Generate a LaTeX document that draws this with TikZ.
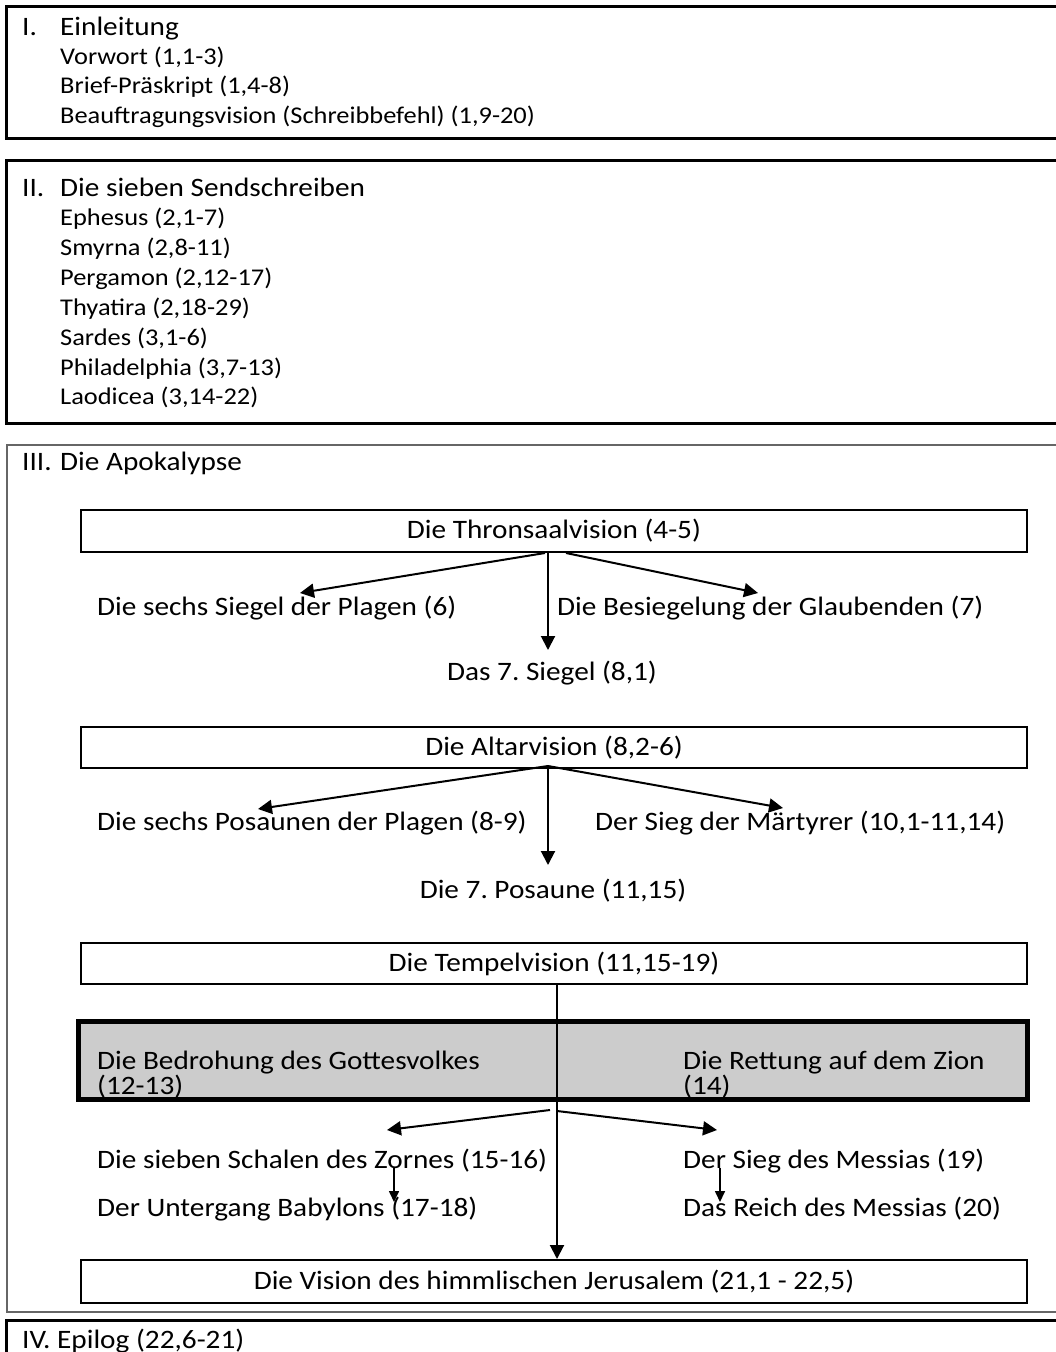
\documentclass[tikz,border=0pt]{standalone}
\usepackage{fontspec}
\setmainfont{Carlito}[FakeStretch=1.1]
\usetikzlibrary{arrows.meta}
\newcommand\dfont{\fontsize{26.6}{30}\selectfont}
\newcommand\lfont{\fontsize{24}{29.5}\selectfont}
\newcommand\gfont{\fontsize{26.6}{21.5}\selectfont}
\frenchspacing
\begin{document}
\begin{tikzpicture}[x=1pt,y=-1pt,
  font=\dfont,
  txt/.style={inner sep=0pt, anchor=base west},
  ltxt/.style={inner sep=0pt, anchor=base west, font=\lfont},
  gtxt/.style={inner sep=0pt, anchor=north west, align=left, font=\gfont},
  ctxt/.style={inner sep=0pt, anchor=base},
  frameA/.style={draw, line width=3pt},
  frameB/.style={draw=black!60, line width=1.8pt},
  vbox/.style={draw, line width=2pt, minimum width=946pt, minimum height=42pt, inner sep=0pt},
  graybox/.style={draw, line width=5pt, fill=black!20, minimum width=949pt, minimum height=78pt, inner sep=0pt},
  arr/.style={line width=2pt, -{Triangle[length=14pt,width=14pt]}},
  sarr/.style={line width=1.6pt, -{Triangle[length=11pt,width=10pt]}},
]
\useasboundingbox (0,0) rectangle (1056,1352);
\clip (0,0) rectangle (1056,1352);
\fill[white] (0,0) rectangle (1056,1352);

% ---- Section I
\draw[frameA] (6.5,6.5) rectangle (1080,138.5);
\node[txt] (h1n) at (22,35) {I.};
\node[txt] (h1) at (60,35) {Einleitung};
\node[ltxt] (i1) at (60,64) {Vorwort (1,1-3)};
\node[ltxt] (i2) at (60,93.5) {Brief-Präskript (1,4-8)};
\node[ltxt] (i3) at (60,123) {Beauftragungsvision (Schreibbefehl) (1,9-20)};

% ---- Section II
\draw[frameA] (6.5,160.5) rectangle (1080,423.5);
\node[txt] (h2n) at (22,196) {II.};
\node[txt] (h2) at (60,196) {Die sieben Sendschreiben};
\node[ltxt] (s1) at (60,225.5) {Ephesus (2,1-7)};
\node[ltxt] (s2) at (60,255.4) {Smyrna (2,8-11)};
\node[ltxt] (s3) at (60,285.3) {Pergamon (2,12-17)};
\node[ltxt] (s4) at (60,315.2) {Thyatira (2,18-29)};
\node[ltxt] (s5) at (60,345.1) {Sardes (3,1-6)};
\node[ltxt] (s6) at (60,375) {Philadelphia (3,7-13)};
\node[ltxt] (s7x) at (60,404.9) {Laodicea (3,14-22)};

% ---- Section III
\draw[frameB] (7,445) rectangle (1080,1312);
\node[txt] (h3n) at (22,470) {III.};
\node[txt] (h3) at (60,470) {Die Apokalypse};

\node[vbox] (thron) at (554,531) {Die Thronsaalvision (4-5)};
\node[txt] (siegel6) at (97,615) {Die sechs Siegel der Plagen (6)};
\node[txt] (besieg) at (557,615) {Die Besiegelung der Glaubenden (7)};
\node[ctxt] (siegel7) at (552,680) {Das 7. Siegel (8,1)};
\coordinate (tl) at (300,593);
\coordinate (tr) at (758,593);
\coordinate (tc) at (548,650);
\draw[arr] ([xshift=-9pt]thron.south) -- (tl);
\draw[arr] ([xshift=-6pt]thron.south) -- (tc);
\draw[arr] ([xshift=12pt]thron.south) -- (tr);

\node[vbox, minimum height=41pt] (altar) at (554,747.5) {Die Altarvision (8,2-6)};
\node[txt] (pos6) at (97,830) {Die sechs Posaunen der Plagen (8-9)};
\node[txt] (mart) at (595,830) {Der Sieg der Märtyrer (10,1-11,14)};
\node[ctxt] (pos7) at (553,898) {Die 7. Posaune (11,15)};
\coordinate (al) at (258,809);
\coordinate (ar) at (783,808);
\coordinate (ac) at (548,865);
\draw[arr] ([xshift=-6pt,yshift=3pt]altar.south) -- (al);
\draw[arr] ([xshift=-6pt]altar.south) -- (ac);
\draw[arr] ([xshift=-6pt,yshift=3pt]altar.south) -- (ar);

\node[vbox, minimum height=41pt] (tempel) at (554,963.5) {Die Tempelvision (11,15-19)};

\node[graybox] (gray) at (553,1060.5) {};
\node[gtxt] (bedr) at (97,1051) {Die Bedrohung des Gottesvolkes\\(12-13)};
\node[gtxt] (rett) at (683,1051) {Die Rettung auf dem Zion\\(14)};

\node[vbox, minimum height=43pt] (jeru) at (554,1281.5) {Die Vision des himmlischen Jerusalem (21,1 - 22,5)};
\draw[arr] ([xshift=3pt]tempel.south) -- ([xshift=3pt]jeru.north);

\node[txt] (schal) at (97,1168) {Die sieben Schalen des Zornes (15-16)};
\node[txt] (babyl) at (97,1216) {Der Untergang Babylons (17-18)};
\node[txt] (messS) at (683,1168) {Der Sieg des Messias (19)};
\node[txt] (messR) at (683,1216) {Das Reich des Messias (20)};

\coordinate (gApex) at (550,1110);
\coordinate (gl) at (387,1130);
\coordinate (gr) at (717,1130);
\draw[arr] (gApex) -- (gl);
\draw[arr] ([xshift=7pt,yshift=-1pt]gApex) -- (gr);

\coordinate (sl1) at (394,1168);
\coordinate (sl2) at (394,1202);
\coordinate (sr1) at (720,1168);
\coordinate (sr2) at (720,1202);
\draw[sarr] (sl1) -- (sl2);
\draw[sarr] (sr1) -- (sr2);

% ---- Section IV
\draw[frameA] (6.5,1320.5) rectangle (1080,1400);
\node[txt] (h4) at (22,1348) {IV. Epilog (22,6-21)};
\end{tikzpicture}
\end{document}
